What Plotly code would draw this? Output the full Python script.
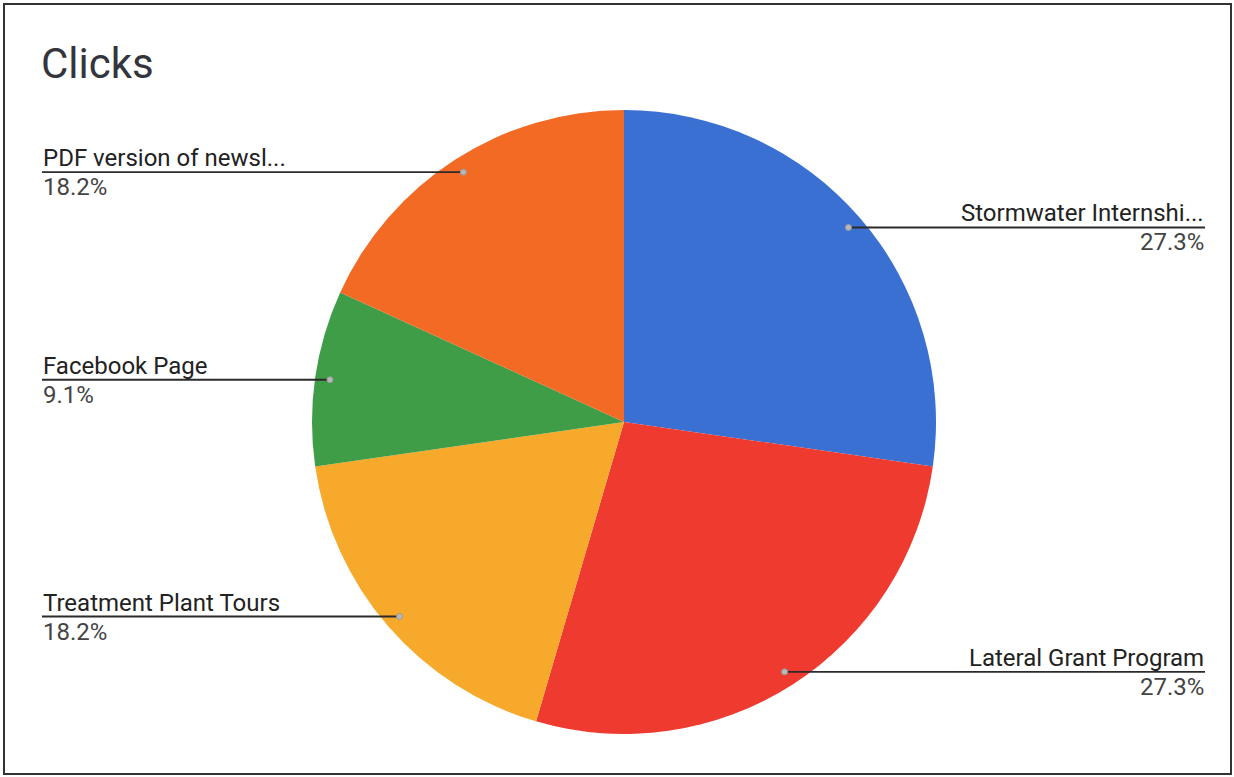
import math
import plotly.graph_objects as go

labels = ["Stormwater Internship", "Lateral Grant Program", "Treatment Plant Tours", "Facebook Page", "PDF version of newsletter"]
short_labels = ["Stormwater Internshi...", "Lateral Grant Program", "Treatment Plant Tours", "Facebook Page", "PDF version of newsl..."]
clicks = [3, 3, 2, 1, 2]
colors = ["#3b70d3", "#ee3a2f", "#f6a92a", "#3f9c47", "#f26a24"]

W, H = 1234, 777
CX, CY, R = 624, 422, 312
LEFT_X, RIGHT_X = 42, 1205

fig = go.Figure(go.Pie(
    labels=labels, values=clicks, sort=False, direction="clockwise", rotation=0,
    marker=dict(colors=colors, line=dict(width=0)),
    textinfo="none", hoverinfo="label+percent", showlegend=False,
    domain=dict(x=[(CX - R) / W, (CX + R) / W], y=[1 - (CY + R) / H, 1 - (CY - R) / H]),
))

def px(x):
    return x / W

def py(y):
    return 1 - y / H

total = sum(clicks)
shapes = []
annotations = []
cum = 0
for lab, v in zip(short_labels, clicks):
    mid = (cum + v / 2) / total * 2 * math.pi
    cum += v
    dx = CX + 0.952 * R * math.sin(mid)
    dy = CY - 0.952 * R * math.cos(mid)
    pct = f"{100 * v / total:.1f}%"
    right = math.sin(mid) > 0
    x0, x1 = (dx, RIGHT_X) if right else (LEFT_X, dx)
    shapes.append(dict(type="line", xref="paper", yref="paper", x0=px(x0), x1=px(x1), y0=py(dy), y1=py(dy),
                       line=dict(color="#2b2b2b", width=1.8)))
    shapes.append(dict(type="circle", xref="paper", yref="paper", x0=px(dx - 3), x1=px(dx + 3), y0=py(dy + 3), y1=py(dy - 3),
                       fillcolor="#b8b8b8", line=dict(color="#9a9a9a", width=1)))
    xa = px(RIGHT_X) if right else px(LEFT_X)
    anc = "right" if right else "left"
    annotations.append(dict(x=xa, y=py(dy), xref="paper", yref="paper", text=lab, showarrow=False,
                            xanchor=anc, yanchor="bottom", yshift=-1, borderpad=0,
                            font=dict(family="Roboto", size=24, color="#222222")))
    annotations.append(dict(x=xa, y=py(dy), xref="paper", yref="paper", text=pct, showarrow=False,
                            xanchor=anc, yanchor="top", yshift=0, borderpad=0,
                            font=dict(family="Roboto", size=24, color="#444444")))

annotations.append(dict(x=px(40), y=py(63), xref="paper", yref="paper", text="Clicks", showarrow=False,
                        xanchor="left", yanchor="middle", borderpad=0,
                        font=dict(family="Roboto", size=42, color="#34343c")))

shapes.append(dict(type="rect", xref="paper", yref="paper", x0=px(4), x1=px(1231), y0=py(774), y1=py(4),
                   line=dict(color="#333333", width=2), fillcolor="rgba(0,0,0,0)"))

fig.update_layout(
    width=W, height=H, margin=dict(l=0, r=0, t=0, b=0),
    paper_bgcolor="white", plot_bgcolor="white",
    shapes=shapes, annotations=annotations,
)

fig.write_html("out.html")
